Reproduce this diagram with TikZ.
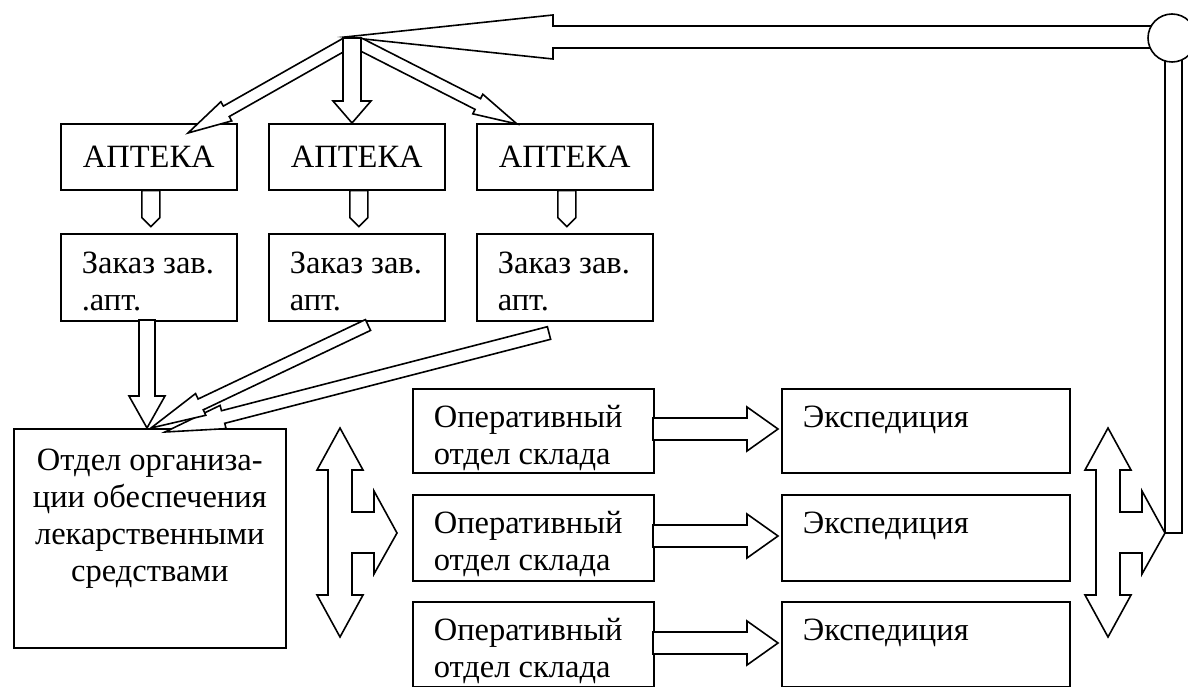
\documentclass[tikz,border=0pt]{standalone}
\usepackage{fontspec}
\setmainfont{Liberation Serif}
\usetikzlibrary{calc}
% block arrow: tail, tip, half shaft width, half head width, head length
\newcommand{\barrow}[5]{%
  \coordinate (bH) at ($(#2)!#5!(#1)$);
  \draw[fill=white] ($(#1)!#3!90:(#2)$) -- ($(bH)!#3!90:(#2)$) -- ($(bH)!#4!90:(#2)$) -- (#2)
    -- ($(bH)!#4!-90:(#2)$) -- ($(bH)!#3!-90:(#2)$) -- ($(#1)!#3!-90:(#2)$) -- cycle;}
% double vertical arrow with a side arrow to the right
\newcommand{\dblarrow}[1]{%
  \draw[fill=white] (#1,428) -- ++(23,42) -- ++(-11,0) -- ++(0,42) -- ++(22,0) -- ++(0,-21)
    -- ++(23,42) -- ++(-23,41) -- ++(0,-21) -- ++(-22,0) -- ++(0,42) -- ++(11,0)
    -- ++(-23,42) -- ++(-23,-42) -- ++(11,0) -- ++(0,-125) -- ++(-11,0) -- cycle;}
\begin{document}
\begin{tikzpicture}[x=1pt,y=-1pt,line width=1.6pt,line join=miter,
  box/.style={draw,fill=white,inner sep=0pt,anchor=north west},
  txt/.style={inner sep=0pt,font=\fontsize{32.5}{36.8}\selectfont}]
\useasboundingbox (0,0) rectangle (1188,687);

% pharmacy boxes
\foreach \i/\x in {1/60,2/268,3/476}{
  \node[box,txt,minimum width=176pt,minimum height=66pt] (ap\i) at (\x,123) {АПТЕКА};
  \node[box,minimum width=176pt,minimum height=87pt] (zk\i) at (\x,233) {};
}
% (base anchor of a multi-line node = baseline of its last line)
\node[txt,anchor=base west,align=left] (zt1) at ($(zk1.north west)+(21,77)$) {Заказ зав.\\.апт.};
\node[txt,anchor=base west,align=left] (zt2) at ($(zk2.north west)+(21,77)$) {Заказ зав.\\апт.};
\node[txt,anchor=base west,align=left] (zt3) at ($(zk3.north west)+(21,77)$) {Заказ зав.\\апт.};

% small arrows pharmacy -> order
\foreach \i in {1,2,3}{
  \coordinate (sa\i) at ($(ap\i.south)+(2,0)$);
  \coordinate (sb\i) at ($(ap\i.south)+(2,36)$);
  \barrow{sa\i}{sb\i}{9pt}{9pt}{9pt}
}

% department box
\node[box,minimum width=272pt,minimum height=219pt] (otd) at (13,428) {};
\node[txt,anchor=base,align=center] (otdt) at ($(otd.north)+(0,153)$)
  {Отдел организа-\\ции обеспечения\\лекарственными\\средствами};

% warehouse and expedition boxes
\foreach \i/\y/\h in {1/388/84,2/494/86,3/601/85}{
  \node[box,minimum width=241pt,minimum height=\h pt] (op\i) at (412,\y) {};
  \node[box,minimum width=288pt,minimum height=\h pt] (ex\i) at (781,\y) {};
  \node[txt,anchor=base west,align=left] (opt\i) at ($(op\i.north west)+(21,76)$) {Оперативный\\отдел склада};
  \node[txt,anchor=base west] (ext\i) at ($(ex\i.north west)+(21,39)$) {Экспедиция};
}
\foreach \i/\y in {1/429,2/536,3/643}{
  \coordinate (ha\i) at (653,\y);
  \coordinate (hb\i) at (778,\y);
  \barrow{ha\i}{hb\i}{11pt}{22pt}{31pt}
}

% orders -> department
\coordinate (aT) at (147,320);
\coordinate (aP) at (147,428);
\coordinate (bT) at (368,325);
\coordinate (bP) at (151,428);
\coordinate (cT) at (549,333);
\coordinate (cP) at (165,432);
\barrow{cT}{cP}{6.5pt}{12pt}{60pt}
\barrow{bT}{bP}{6pt}{12pt}{55pt}
\barrow{aT}{aP}{8pt}{18pt}{32pt}

% double arrows
\dblarrow{340}
\dblarrow{1108}

% feedback loop
\draw[fill=white] (1165,50) rectangle (1182,533);
\coordinate (tT) at (1160,37);
\coordinate (tP) at (345,37);
\barrow{tT}{tP}{11pt}{22pt}{208pt}
\node[draw,fill=white,circle,minimum size=48pt,inner sep=0pt] (hub) at (1172,38) {};

% distribution to pharmacies
\coordinate (lT) at (347,43);
\coordinate (lP) at (188,133);
\coordinate (rT) at (358,43);
\coordinate (rP) at (517,124);
\coordinate (mT) at (352,38);
\coordinate (mP) at (352,123);
\barrow{lT}{lP}{6pt}{11pt}{44pt}
\barrow{rT}{rP}{6pt}{11pt}{44pt}
\barrow{mT}{mP}{9pt}{19pt}{22pt}
\end{tikzpicture}
\end{document}
